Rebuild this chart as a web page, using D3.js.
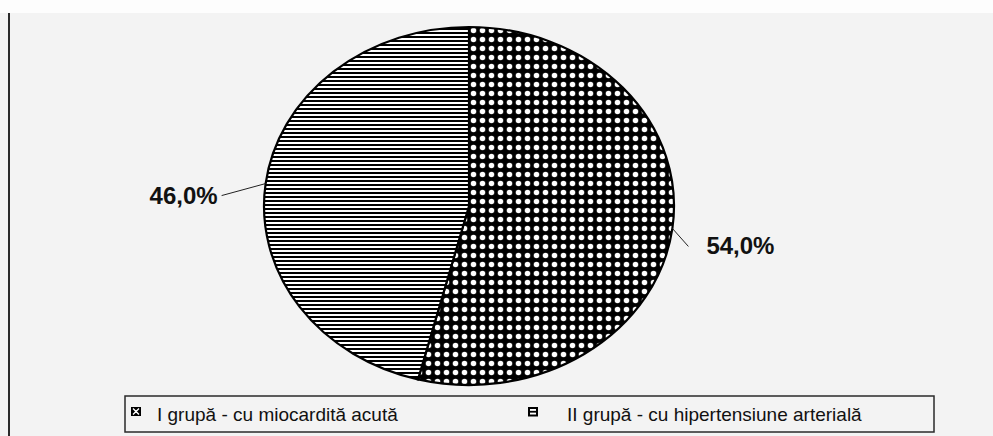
<!DOCTYPE html>
<html>
<head>
<meta charset="utf-8">
<script src="https://cdn.jsdelivr.net/npm/d3@7"></script>
<style>
  html, body { margin: 0; padding: 0; background: #f3f3f3; }
  svg { display: block; font-family: "Liberation Sans", Arial, sans-serif; }
</style>
</head>
<body>
<script>
// data
const groups = ['I grupă - cu miocardită acută', 'II grupă - cu hipertensiune arterială'];
const shares = [54.0, 46.0];
const valueLabels = ['54,0%', '46,0%'];

const W = 993, H = 436;
const COLORS = {
    bg: '#f3f3f3',
    topStrip: '#fdfdfd',
    ink: '#111111',
    frame: '#2a2a2a'
}

const cx = 469, cy = 206, rx = 205, ry = 179;
const stretch = rx / ry;

const svg = d3.select('body').append('svg')
    .attr('width', W)
    .attr('height', H);

svg.append('rect').attr('width', W).attr('height', H).attr('fill', COLORS.bg);
svg.append('rect').attr('width', W).attr('height', 13).attr('fill', COLORS.topStrip);
svg.append('line')
    .attr('x1', 9).attr('x2', 9).attr('y1', 13).attr('y2', H)
    .attr('stroke', COLORS.frame).attr('stroke-width', 2);

// fill patterns
const defs = svg.append('defs');

const dots = defs.append('pattern')
    .attr('id', 'dots')
    .attr('patternUnits', 'userSpaceOnUse')
    .attr('width', 9).attr('height', 9)
    .attr('patternTransform', 'scale(' + (1 / stretch) + ',1)');
dots.append('rect').attr('width', 9).attr('height', 9).attr('fill', '#000');
dots.append('circle')
    .attr('cx', 4.5).attr('cy', 4.5).attr('r', 2.8)
    .attr('fill', '#fff');

const stripes = defs.append('pattern')
    .attr('id', 'stripes')
    .attr('patternUnits', 'userSpaceOnUse')
    .attr('width', 8).attr('height', 4)
    .attr('patternTransform', 'scale(' + (1 / stretch) + ',1)');
stripes.append('rect').attr('width', 8).attr('height', 4).attr('fill', '#fff');
stripes.append('rect').attr('y', 2).attr('width', 8).attr('height', 2).attr('fill', '#000');

const patternIds = ['dots', 'stripes'];

// pie, drawn as a circle then stretched horizontally into an ellipse
const pie = d3.pie().sort(null).value(d => d);
const arcs = pie(shares);
const arc = d3.arc().innerRadius(0).outerRadius(ry);

const pieG = svg.append('g')
    .attr('transform', 'translate(' + cx + ',' + cy + ') scale(' + stretch + ',1)');

pieG.selectAll('path.slice')
    .data(arcs)
    .enter()
    .append('path')
    .attr('class', 'slice')
    .attr('d', arc)
    .attr('fill', (d, i) => 'url(#' + patternIds[i] + ')')
    .attr('stroke', '#000')
    .attr('stroke-width', 2.2)
    .attr('vector-effect', 'non-scaling-stroke');

// labels with leader lines
const leaderOffsets = [[16, 18], [-44, 12]];

function edgePoint (d) {
    var a = (d.startAngle + d.endAngle) / 2;
    return { x: cx + rx * Math.sin(a), y: cy - ry * Math.cos(a) };
}

arcs.forEach((d, i) => {
    var p = edgePoint(d);
    var off = leaderOffsets[i];
    var right = off[0] > 0;
    svg.append('line')
        .attr('x1', p.x).attr('y1', p.y)
        .attr('x2', p.x + off[0]).attr('y2', p.y + off[1])
        .attr('stroke', '#222').attr('stroke-width', 1);
    svg.append('text')
        .attr('x', p.x + off[0] + (right ? 18 : -4))
        .attr('y', p.y + off[1] + 8)
        .attr('text-anchor', right ? 'start' : 'end')
        .attr('font-size', 24)
        .attr('font-weight', 'bold')
        .attr('fill', COLORS.ink)
        .text(valueLabels[i]);
});

// legend
const legend = svg.append('g');
legend.append('rect')
    .attr('x', 125).attr('y', 396)
    .attr('width', 809).attr('height', 36)
    .attr('fill', 'none')
    .attr('stroke', COLORS.frame)
    .attr('stroke-width', 1.5);

const legendX = [131, 528];

groups.forEach((g, i) => {
    var x = legendX[i];
    var item = legend.append('g').attr('transform', 'translate(' + x + ',407)');
    if (i === 0) {
        item.append('rect').attr('width', 10).attr('height', 9).attr('fill', '#000');
        item.append('path')
            .attr('d', 'M2,1.5 L5,4.5 L2,7.5 M8,1.5 L5,4.5 L8,7.5')
            .attr('stroke', '#fff').attr('stroke-width', 1.4).attr('fill', 'none');
    } else {
        item.append('rect').attr('x', 1).attr('y', 1).attr('width', 8).attr('height', 7.5)
            .attr('fill', '#fff').attr('stroke', '#000').attr('stroke-width', 2);
        item.append('line').attr('x1', 1).attr('x2', 9).attr('y1', 4.75).attr('y2', 4.75)
            .attr('stroke', '#000').attr('stroke-width', 1.8);
    }
    item.append('text')
        .attr('x', i === 0 ? 26 : 39)
        .attr('y', 14)
        .attr('font-size', 19)
        .attr('fill', COLORS.ink)
        .text(g);
});
</script>
</body>
</html>
